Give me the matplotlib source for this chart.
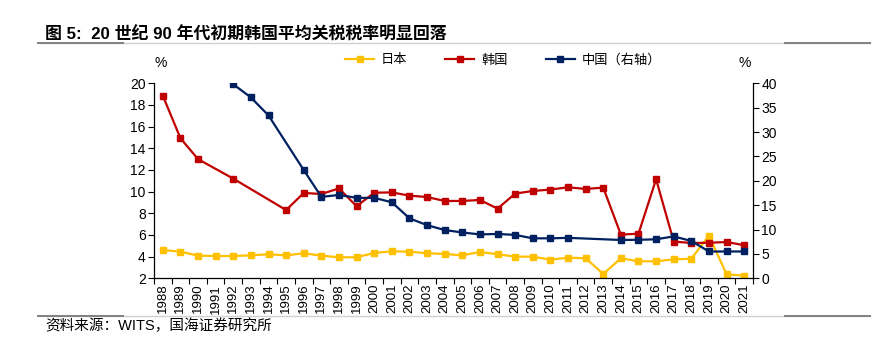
import numpy as np
import matplotlib
matplotlib.use("Agg")
import matplotlib.pyplot as plt
from matplotlib.lines import Line2D

plt.rcParams['font.family'] = ['Liberation Sans', 'Noto Sans CJK SC', 'DejaVu Sans']

years = [str(y) for y in range(1988, 2022)]
japan = [4.61, 4.46, 4.09, 4.06, 4.06, 4.12, 4.22, 4.12, 4.31, 4.09, 3.94, 3.94, 4.34, 4.49,
         4.46, 4.31, 4.25, 4.12, 4.43, 4.22, 4.00, 4.00, 3.72, 3.90, 3.85, 2.40, 3.85, 3.57,
         3.57, 3.75, 3.81, 5.94, 2.37, 2.25]
korea = [18.86, 14.93, 13.0, None, 11.2, None, None, 8.3, 9.88, 9.78, 10.3, 8.65, 9.9, 9.93,
         9.63, 9.5, 9.14, 9.14, 9.23, 8.43, 9.82, 10.06, 10.19, 10.4, 10.25, 10.37, 6.03, 6.12,
         11.14, 5.39, 5.26, 5.28, 5.35, 5.05]
china = [None, None, None, None, 39.8, 37.1, 33.4, None, 22.2, 16.7, 17.1, 16.5, 16.5, 15.6,
         12.3, 10.9, 9.9, 9.4, 9.0, 9.1, 8.9, 8.2, 8.2, 8.3, None, None, 7.86, 7.9,
         8.0, 8.6, 7.65, 5.5, 5.5, 5.5]

c_jp = '#FFC000'
c_kr = '#C00000'
c_cn = '#002060'

fig = plt.figure(figsize=(8.72, 3.41), dpi=100)
ax = fig.add_axes([154/872, 1-278.3/341, (753-154)/872, (278.3-83.3)/341])
ax2 = ax.twinx()

def pts(vals):
    xs = [i for i, v in enumerate(vals) if v is not None]
    ys = [v for v in vals if v is not None]
    return xs, ys

kw = dict(marker='s', markersize=4.0, linewidth=1.6)
x, y = pts(japan)
lj, = ax.plot(x, y, color=c_jp, label='日本', **kw)
x, y = pts(korea)
lk, = ax.plot(x, y, color=c_kr, label='韩国', **kw)
x, y = pts(china)
lc, = ax2.plot(x, y, color=c_cn, label='中国（右轴）', **kw)

ax.set_xlim(-0.5, len(years) - 0.5)
ax.set_ylim(2, 20)
ax.set_yticks(np.arange(2, 21, 2))
ax2.set_ylim(0, 40)
ax2.set_yticks(np.arange(0, 41, 5))

ax.set_xticks(range(len(years)))
ax.set_xticklabels(years, rotation=90, fontsize=9.5)
ax.set_xticks(np.arange(-0.5, len(years), 1), minor=True)
ax.tick_params(axis='x', which='major', length=0, pad=4)
ax.tick_params(axis='x', which='minor', length=4, direction='out', width=0.8)
ax.tick_params(axis='y', length=4, width=0.8, labelsize=10, pad=2)
ax2.tick_params(axis='y', length=4, width=0.8, labelsize=10, pad=2)

for a in (ax, ax2):
    a.spines['top'].set_visible(False)
    for s in ('left', 'right', 'bottom'):
        a.spines[s].set_linewidth(0.9)
ax2.spines['left'].set_visible(False)
ax2.spines['bottom'].set_visible(False)
ax.spines['right'].set_visible(False)

fig.text(161/872, 1-63/341, '%', ha='center', va='center', fontsize=10)
fig.text(745/872, 1-63/341, '%', ha='center', va='center', fontsize=10)

leg = fig.legend(handles=[lj, lk, lc], loc='center left', bbox_to_anchor=(345/872, 1-60/341),
                 ncol=3, frameon=False, handlelength=2.2, columnspacing=2.9,
                 handletextpad=0.5, borderaxespad=0, borderpad=0,
                 prop={'family': ['Noto Sans CJK SC'], 'size': 9.5})

fig.text(45/872, 1-35/341, '图 5:  20 世纪 90 年代初期韩国平均关税税率明显回落',
         ha='left', va='center', fontsize=12.2, fontweight='bold',
         family=['Liberation Sans', 'Noto Sans CJK SC'])
fig.text(45/872, 1-326/341, '资料来源：WITS，国海证券研究所', ha='left', va='center',
         fontsize=10.5, family=['Liberation Sans', 'Noto Sans CJK SC'])

for yy in (43, 316):
    yf = 1 - yy/341
    fig.add_artist(Line2D([38/872, 870/872], [yf, yf], color='#D0D0D0', linewidth=1.0))
    fig.add_artist(Line2D([38/872, 123/872], [yf, yf], color='#808080', linewidth=1.4))
    fig.add_artist(Line2D([785/872, 870/872], [yf, yf], color='#808080', linewidth=1.4))

fig.savefig('out.png', dpi=100)
